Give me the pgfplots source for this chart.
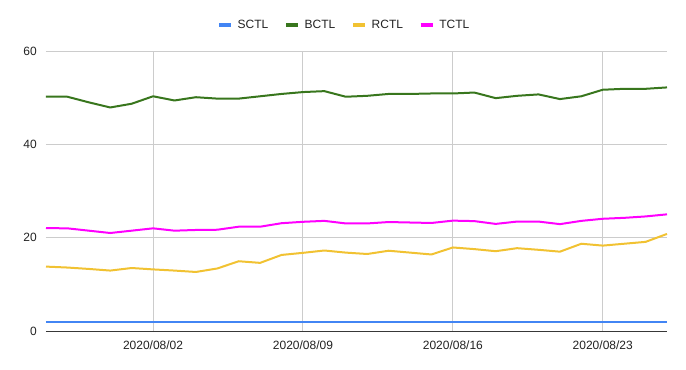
\documentclass[border=0pt]{standalone}
\usepackage{pgfplots}
\pgfplotsset{compat=1.18}
\usepackage{pgfplotstable}
\usepackage{fontspec}
\setmainfont{Liberation Sans}
\definecolor{sctl}{HTML}{4285F4}
\definecolor{bctl}{HTML}{38761D}
\definecolor{rctl}{HTML}{F1C232}
\definecolor{tctl}{HTML}{FF00FF}
\definecolor{gridc}{HTML}{CCCCCC}
\definecolor{txt}{HTML}{222222}
\pgfplotstableread{
day S B R T
0 2 50.2 13.8 22.05
1 2 50.2 13.6 22.0
2 2 49.0 13.3 21.5
3 2 47.9 12.95 21.0
4 2 48.7 13.5 21.5
5 2 50.3 13.2 22.0
6 2 49.4 12.95 21.5
7 2 50.1 12.65 21.65
8 2 49.8 13.4 21.7
9 2 49.8 14.95 22.35
10 2 50.3 14.6 22.35
11 2 50.8 16.3 23.1
12 2 51.2 16.75 23.4
13 2 51.4 17.25 23.6
14 2 50.2 16.8 23.05
15 2 50.4 16.5 23.05
16 2 50.8 17.2 23.35
17 2 50.8 16.8 23.25
18 2 50.9 16.4 23.15
19 2 50.9 17.9 23.65
20 2 51.1 17.55 23.55
21 2 49.9 17.1 22.95
22 2 50.4 17.75 23.45
23 2 50.7 17.4 23.45
24 2 49.7 17.0 22.9
25 2 50.3 18.7 23.6
26 2 51.7 18.3 24.05
27 2 51.9 18.7 24.25
28 2 51.9 19.1 24.55
29 2 52.2 20.8 25.0
}\datatable
\begin{document}
\begin{tikzpicture}
\path[use as bounding box] (-34.5pt,-28.5pt) rectangle (480pt,248.25pt);
\begin{axis}[
  at={(0pt,0pt)}, anchor=south west,
  scale only axis,
  width=465.75pt, height=210pt,
  xmin=0, xmax=29, ymin=0, ymax=60,
  xtick={5,12,19,26},
  xticklabels={2020/08/02,2020/08/09,2020/08/16,2020/08/23},
  ytick={0,20,40,60},
  /pgf/number format/assume math mode=true,
  tick label style={font=\fontsize{9}{11}\selectfont, text=txt},
  xticklabel style={yshift=-4pt},
  yticklabel style={xshift=-3.4pt},
  major tick length=0pt,
  xmajorgrids, ymajorgrids,
  grid style={gridc, line width=0.75pt},
  separate axis lines,
  axis x line*=bottom, axis y line*=left,
  y axis line style={draw=none},
  x axis line style={draw=txt!90, line width=0.75pt, -},
  clip=false,
  legend columns=4,
  legend style={draw=none, fill=none, at={(0.481,1.093)}, anchor=center,
    font=\fontsize{9}{11}\selectfont, text=txt,
    /tikz/every even column/.append style={column sep=10pt}},
  legend image code/.code={\draw[#1, line width=2.5pt] (0pt,0pt) -- (9pt,0pt); \path[draw=none] (0pt,0pt) -- (12pt,0pt);},
  every axis plot/.append style={line width=1.5pt, line join=round},
]
\addplot[sctl] table[x=day, y=S] {\datatable};
\addlegendentry{SCTL}
\addplot[bctl] table[x=day, y=B] {\datatable};
\addlegendentry{BCTL}
\addplot[rctl] table[x=day, y=R] {\datatable};
\addlegendentry{RCTL}
\addplot[tctl] table[x=day, y=T] {\datatable};
\addlegendentry{TCTL}
\end{axis}
\end{tikzpicture}
\end{document}
